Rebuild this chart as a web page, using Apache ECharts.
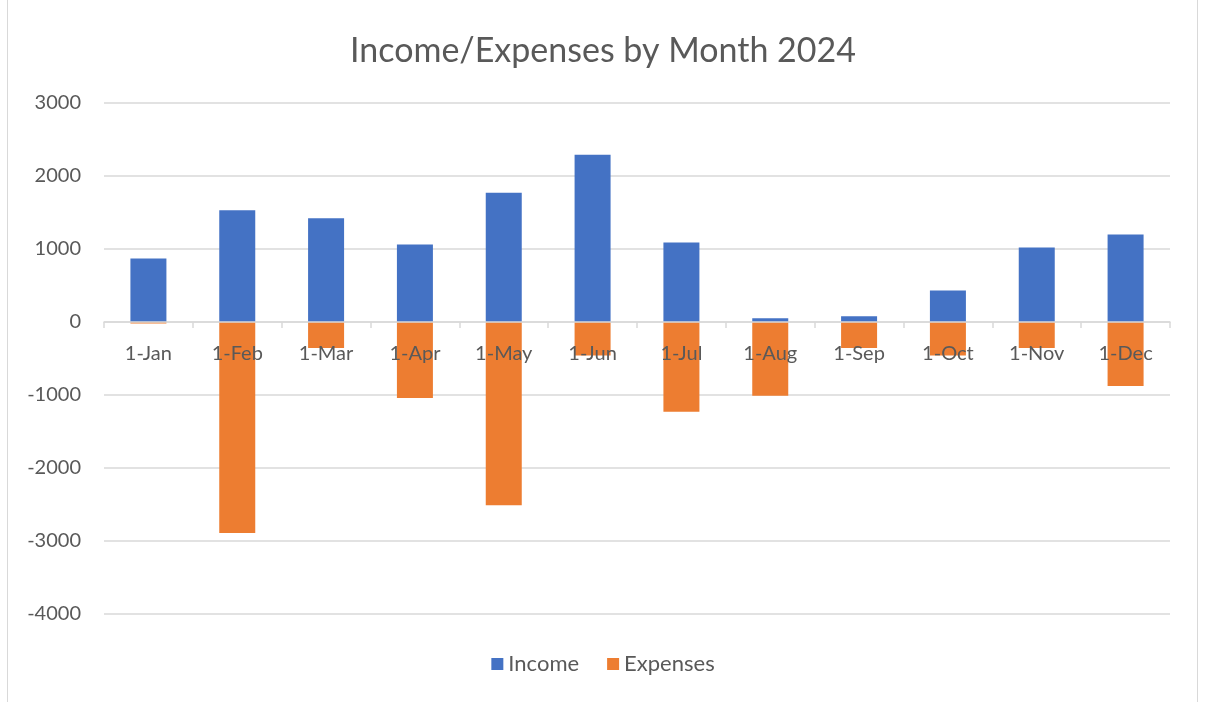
<!DOCTYPE html>
<html>
<head>
<meta charset="utf-8">
<script src="https://cdn.jsdelivr.net/npm/echarts@6/dist/echarts.min.js"></script>
<style>
  html, body { margin: 0; padding: 0; background: #fff; }
  #chart { width: 1206px; height: 702px; }
</style>
</head>
<body>
<div id="chart"></div>
<script>
// data
var months = ['1-Jan', '1-Feb', '1-Mar', '1-Apr', '1-May', '1-Jun', '1-Jul', '1-Aug', '1-Sep', '1-Oct', '1-Nov', '1-Dec'];
var income = [870, 1530, 1420, 1060, 1770, 2290, 1090, 50, 80, 430, 1020, 1200];
var expenses = [-20, -2890, -355, -1040, -2510, -460, -1230, -1010, -355, -460, -355, -875];
var yMin = -4000, yMax = 3000, yStep = 1000;

var chart = echarts.init(document.getElementById('chart'));
var txt = '#595959';
var font = 'Lato, "Open Sans", sans-serif';

// plot box
var gTop = 103, gBottom = 88;
var plotH = 702 - gTop - gBottom;
// move the category axis up to the zero line
var zeroOffset = -plotH * (0 - yMin) / (yMax - yMin);

var option = {
    animation: false,
    textStyle: { fontFamily: font },
    title: {
        text: 'Income/Expenses by Month 2024',
        left: 'center',
        top: 29,
        textStyle: { fontSize: 34, fontWeight: 'normal', color: txt, fontFamily: font }
    },
    legend: {
        bottom: 22,
        left: 'center',
        itemWidth: 12,
        itemHeight: 12,
        itemGap: 28,
        icon: 'rect',
        textStyle: { fontSize: 22, color: txt, fontFamily: font },
        data: ['Income', 'Expenses']
    },
    grid: { left: 104, right: 36, top: gTop, bottom: gBottom },
    xAxis: {
        type: 'category',
        data: months,
        offset: zeroOffset,
        axisLine: { onZero: false, lineStyle: { color: '#d9d9d9', width: 1.5 } },
        axisTick: { show: true, length: 6, lineStyle: { color: '#d9d9d9', width: 1.5 } },
        axisLabel: { fontSize: 20, color: txt, margin: 22 },
        z: 10
    },
    yAxis: {
        type: 'value',
        min: yMin,
        max: yMax,
        interval: yStep,
        axisLine: { show: false },
        axisTick: { show: false },
        axisLabel: { fontSize: 20, color: txt, margin: 23, formatter: function (v) { return String(v); } },
        splitLine: { lineStyle: { color: '#d9d9d9', width: 1.5 } }
    },
    series: [
        {
            name: 'Income',
            type: 'bar',
            stack: 'total',
            barWidth: 36,
            itemStyle: { color: '#4472c4' },
            data: income
        },
        {
            name: 'Expenses',
            type: 'bar',
            stack: 'total',
            barWidth: 36,
            itemStyle: { color: '#ed7d31' },
            data: expenses
        }
    ],
    graphic: [{
        type: 'rect',
        shape: { x: 7.5, y: -2, width: 1190, height: 720 },
        style: { fill: 'none', stroke: '#d9d9d9', lineWidth: 1 },
        silent: true
    }]
};

chart.setOption(option);
</script>
</body>
</html>
